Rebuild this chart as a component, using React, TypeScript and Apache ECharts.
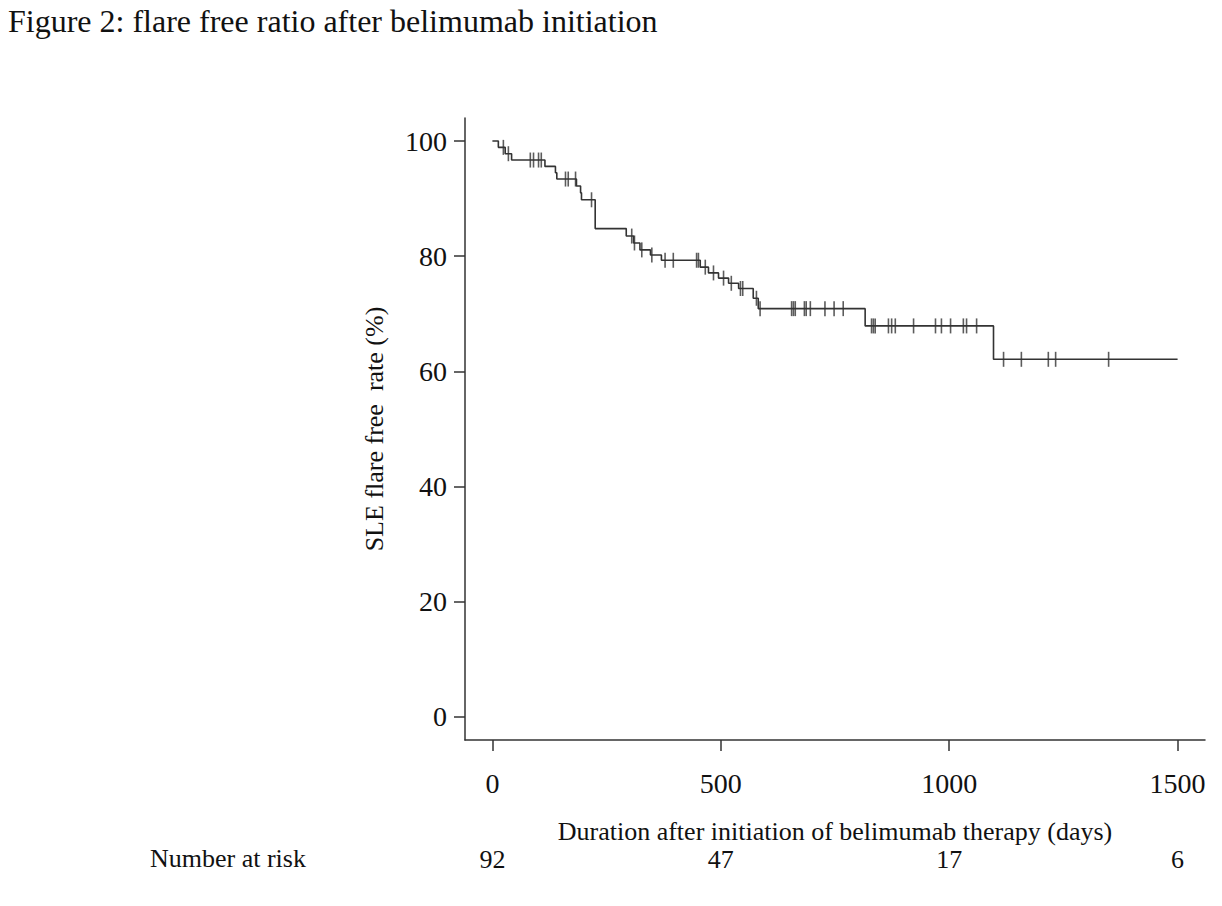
import React, { useEffect, useRef } from "react";
import * as echarts from "echarts";

// Kaplan-Meier step points (day at which the level changes, new level in %)
const stepDays = [0, 13, 28, 42, 115, 138, 141, 184, 193, 195, 225, 293, 309, 323, 346, 370, 455, 473, 495, 517, 539, 571, 582, 816, 1097];
const stepRates = [100, 98.9, 97.8, 96.7, 95.6, 94.5, 93.4, 92.2, 91.0, 89.8, 84.8, 83.5, 82.3, 81.1, 80.2, 79.3, 78.1, 77.1, 76.2, 75.3, 74.4, 72.7, 70.9, 67.9, 62.1];
const lastDay = 1500;

// censored observations (days)
const censorDays = [
  24, 35, 83, 90, 101, 107, 160, 166, 182, 217, 305, 311, 327, 349, 378, 396, 447, 451,
  466, 484, 506, 523, 543, 548, 578, 586, 655, 659, 663, 683, 687, 696, 728, 748, 768,
  830, 834, 838, 867, 874, 882, 922, 970, 983, 1003, 1031, 1038, 1060,
  1119, 1158, 1217, 1233, 1349,
];

const xTicks = [0, 500, 1000, 1500];
const yTicks = [0, 20, 40, 60, 80, 100];
const riskCounts = [92, 47, 17, 6];

const titleText = "Figure 2: flare free ratio after belimumab initiation";
const xTitle = "Duration after initiation of belimumab therapy (days)";
const yTitle = "SLE flare free  rate (%)";
const riskTitle = "Number at risk";

function levelAt(d: number): number {
  let v = stepRates[0];
  for (let i = 0; i < stepDays.length; i++) {
    if (stepDays[i] <= d) v = stepRates[i];
  }
  return v;
}

const FONT = "Liberation Serif";
const INK = "#333";

export default function App() {
  const ref = useRef<HTMLDivElement>(null);
  useEffect(() => {
    if (!ref.current) return;
    const chart = echarts.init(ref.current, undefined, { renderer: "svg" });
    const lineData = stepDays.map((d, i) => [d, stepRates[i]]);
    lineData.push([lastDay, stepRates[stepRates.length - 1]]);
    const censorData = censorDays.map((d) => [d, levelAt(d)]);
    chart.setOption({
      animation: false,
      backgroundColor: "#fff",
      grid: { left: 465, top: 118, width: 740, height: 622, containLabel: false },
      graphic: [
        {
          type: "text",
          left: 8,
          top: 5,
          style: { text: titleText, font: `32px '${FONT}'`, fill: "#111" },
        },
        {
          type: "text",
          left: 150,
          top: 845,
          style: { text: riskTitle, font: `26px '${FONT}'`, fill: "#111" },
        },
      ],
      xAxis: [
        {
          type: "value",
          min: -60,
          max: 1560,
          position: "bottom",
          axisLine: { show: true, onZero: false, lineStyle: { color: INK, width: 1.5 } },
          axisTick: { show: true, length: 11, customValues: xTicks, lineStyle: { color: INK, width: 1.5 } },
          axisLabel: {
            customValues: xTicks,
            fontSize: 28,
            fontFamily: FONT,
            color: "#111",
            margin: 29,
            formatter: (v: number) => String(v),
          },
          splitLine: { show: false },
          name: xTitle,
          nameLocation: "middle",
          nameGap: 78,
          nameTextStyle: { fontSize: 26, fontFamily: FONT, color: "#111" },
        },
        {
          type: "value",
          min: -60,
          max: 1560,
          position: "bottom",
          axisLine: { show: false },
          axisTick: { show: false },
          axisLabel: {
            customValues: xTicks,
            fontSize: 26,
            fontFamily: FONT,
            color: "#111",
            margin: 106,
            formatter: (v: number) => String(riskCounts[xTicks.indexOf(v)]),
          },
          splitLine: { show: false },
        },
      ],
      yAxis: {
        type: "value",
        min: -4,
        max: 104,
        axisLine: { show: true, onZero: false, lineStyle: { color: INK, width: 1.5 } },
        axisTick: { show: true, length: 11, customValues: yTicks, lineStyle: { color: INK, width: 1.5 } },
        axisLabel: { customValues: yTicks, fontSize: 28, fontFamily: FONT, color: "#111", margin: 18 },
        splitLine: { show: false },
        name: yTitle,
        nameLocation: "middle",
        nameGap: 78,
        nameTextStyle: { fontSize: 26, fontFamily: FONT, color: "#111" },
      },
      series: [
        {
          type: "line",
          step: "end",
          data: lineData,
          showSymbol: false,
          lineStyle: { color: INK, width: 1.6 },
          silent: true,
        },
        {
          type: "scatter",
          data: censorData,
          symbol: "rect",
          symbolSize: [1.6, 15],
          itemStyle: { color: INK },
          silent: true,
        },
      ],
    });
    return () => chart.dispose();
  }, []);
  return (
    <div
      ref={ref}
      style={{ position: "absolute", left: 0, top: 0, width: 1222, height: 906 }}
    />
  );
}
